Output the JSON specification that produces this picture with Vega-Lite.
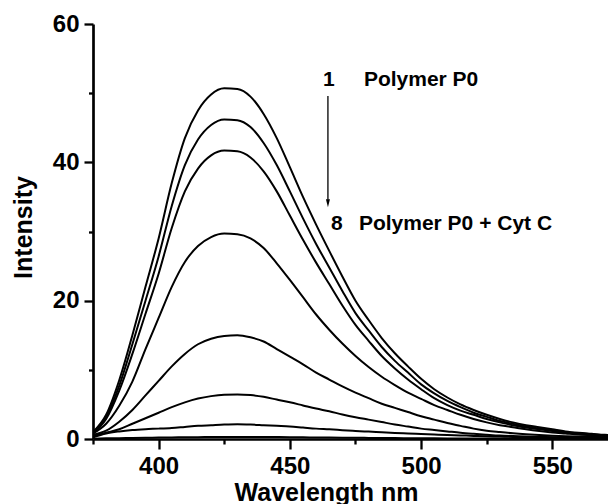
{
  "$schema": "https://vega.github.io/schema/vega-lite/v6.json",
  "width": 515,
  "height": 415,
  "autosize": {"type": "none"},
  "padding": {"left": 93, "top": 24, "right": 0, "bottom": 65},
  "background": "white",
  "config": {
    "view": {"stroke": null},
    "font": "Liberation Sans",
    "axis": {
      "grid": false,
      "domainColor": "black",
      "domainWidth": 2.7,
      "tickColor": "black",
      "tickWidth": 2.3,
      "labelColor": "black",
      "labelFont": "Liberation Sans",
      "labelFontWeight": "bold",
      "labelFontSize": 24,
      "titleColor": "black",
      "titleFont": "Liberation Sans",
      "titleFontWeight": "bold",
      "titleFontSize": 25,
      "labelFlush": false,
      "labelOverlap": false
    }
  },
  "datasets": {
    "spectra": [
      {"w": 375, "c1": 1.0, "c2": 0.95, "c3": 0.9, "c4": 0.8, "c5": 0.6, "c6": 0.4, "c7": 0.25, "c8": 0.05},
      {"w": 380, "c1": 3.5, "c2": 3.2, "c3": 2.9, "c4": 2.2, "c5": 1.2, "c6": 0.9, "c7": 0.8, "c8": 0.1},
      {"w": 385, "c1": 8.5, "c2": 7.7, "c3": 7.0, "c4": 4.8, "c5": 2.5, "c6": 1.4, "c7": 1.1, "c8": 0.12},
      {"w": 390, "c1": 15.0, "c2": 13.7, "c3": 12.3, "c4": 8.3, "c5": 4.2, "c6": 2.2, "c7": 1.3, "c8": 0.15},
      {"w": 395, "c1": 22.0, "c2": 20.0, "c3": 18.1, "c4": 13.0, "c5": 6.3, "c6": 3.0, "c7": 1.42, "c8": 0.17},
      {"w": 400, "c1": 29.0, "c2": 26.4, "c3": 23.9, "c4": 17.5, "c5": 8.4, "c6": 3.8, "c7": 1.5, "c8": 0.2},
      {"w": 405, "c1": 37.0, "c2": 33.7, "c3": 30.5, "c4": 22.0, "c5": 10.5, "c6": 4.6, "c7": 1.6, "c8": 0.22},
      {"w": 410, "c1": 43.5, "c2": 39.6, "c3": 35.8, "c4": 25.6, "c5": 12.3, "c6": 5.3, "c7": 1.75, "c8": 0.25},
      {"w": 415, "c1": 47.5, "c2": 43.3, "c3": 39.1, "c4": 27.9, "c5": 13.7, "c6": 5.85, "c7": 1.9, "c8": 0.27},
      {"w": 420, "c1": 49.8, "c2": 45.4, "c3": 41.0, "c4": 29.2, "c5": 14.5, "c6": 6.2, "c7": 2.0, "c8": 0.28},
      {"w": 425, "c1": 50.7, "c2": 46.2, "c3": 41.7, "c4": 29.7, "c5": 14.9, "c6": 6.4, "c7": 2.1, "c8": 0.3},
      {"w": 430, "c1": 50.6, "c2": 46.1, "c3": 41.6, "c4": 29.6, "c5": 15.0, "c6": 6.45, "c7": 2.15, "c8": 0.3},
      {"w": 435, "c1": 49.5, "c2": 45.1, "c3": 40.7, "c4": 29.0, "c5": 14.7, "c6": 6.35, "c7": 2.1, "c8": 0.3},
      {"w": 440, "c1": 47.0, "c2": 42.8, "c3": 38.7, "c4": 27.6, "c5": 14.1, "c6": 6.1, "c7": 2.0, "c8": 0.29},
      {"w": 445, "c1": 43.5, "c2": 39.6, "c3": 35.8, "c4": 25.4, "c5": 13.0, "c6": 5.7, "c7": 1.9, "c8": 0.28},
      {"w": 450, "c1": 39.3, "c2": 35.8, "c3": 32.3, "c4": 23.0, "c5": 11.9, "c6": 5.3, "c7": 1.8, "c8": 0.26},
      {"w": 455, "c1": 35.0, "c2": 31.9, "c3": 28.8, "c4": 20.5, "c5": 10.8, "c6": 4.85, "c7": 1.65, "c8": 0.24},
      {"w": 460, "c1": 31.0, "c2": 28.2, "c3": 25.5, "c4": 18.0, "c5": 9.6, "c6": 4.4, "c7": 1.5, "c8": 0.22},
      {"w": 465, "c1": 27.2, "c2": 24.8, "c3": 22.4, "c4": 15.8, "c5": 8.6, "c6": 4.0, "c7": 1.4, "c8": 0.2},
      {"w": 470, "c1": 23.5, "c2": 21.4, "c3": 19.3, "c4": 13.8, "c5": 7.6, "c6": 3.55, "c7": 1.28, "c8": 0.19},
      {"w": 475, "c1": 20.0, "c2": 18.2, "c3": 16.5, "c4": 12.0, "c5": 6.7, "c6": 3.15, "c7": 1.17, "c8": 0.17},
      {"w": 480, "c1": 17.2, "c2": 15.7, "c3": 14.2, "c4": 10.4, "c5": 5.9, "c6": 2.8, "c7": 1.07, "c8": 0.16},
      {"w": 485, "c1": 14.6, "c2": 13.3, "c3": 12.0, "c4": 9.0, "c5": 5.1, "c6": 2.45, "c7": 0.97, "c8": 0.15},
      {"w": 490, "c1": 12.4, "c2": 11.3, "c3": 10.2, "c4": 7.8, "c5": 4.5, "c6": 2.1, "c7": 0.88, "c8": 0.13},
      {"w": 495, "c1": 10.5, "c2": 9.6, "c3": 8.6, "c4": 6.7, "c5": 3.9, "c6": 1.8, "c7": 0.8, "c8": 0.12},
      {"w": 500, "c1": 8.7, "c2": 7.9, "c3": 7.2, "c4": 5.8, "c5": 3.3, "c6": 1.5, "c7": 0.72, "c8": 0.11},
      {"w": 505, "c1": 7.2, "c2": 6.6, "c3": 5.9, "c4": 4.9, "c5": 2.8, "c6": 1.3, "c7": 0.65, "c8": 0.1},
      {"w": 510, "c1": 6.0, "c2": 5.5, "c3": 4.9, "c4": 4.2, "c5": 2.3, "c6": 1.1, "c7": 0.58, "c8": 0.09},
      {"w": 515, "c1": 5.0, "c2": 4.6, "c3": 4.1, "c4": 3.5, "c5": 1.9, "c6": 0.9, "c7": 0.52, "c8": 0.08},
      {"w": 520, "c1": 4.2, "c2": 3.8, "c3": 3.5, "c4": 2.9, "c5": 1.5, "c6": 0.75, "c7": 0.45, "c8": 0.08},
      {"w": 525, "c1": 3.5, "c2": 3.2, "c3": 2.9, "c4": 2.4, "c5": 1.2, "c6": 0.62, "c7": 0.4, "c8": 0.07},
      {"w": 530, "c1": 2.9, "c2": 2.6, "c3": 2.4, "c4": 2.0, "c5": 1.0, "c6": 0.5, "c7": 0.35, "c8": 0.07},
      {"w": 535, "c1": 2.4, "c2": 2.2, "c3": 2.0, "c4": 1.7, "c5": 0.82, "c6": 0.42, "c7": 0.3, "c8": 0.06},
      {"w": 540, "c1": 2.0, "c2": 1.8, "c3": 1.65, "c4": 1.4, "c5": 0.68, "c6": 0.35, "c7": 0.26, "c8": 0.06},
      {"w": 545, "c1": 1.7, "c2": 1.5, "c3": 1.4, "c4": 1.15, "c5": 0.57, "c6": 0.3, "c7": 0.22, "c8": 0.05},
      {"w": 550, "c1": 1.4, "c2": 1.3, "c3": 1.15, "c4": 0.95, "c5": 0.48, "c6": 0.25, "c7": 0.19, "c8": 0.05},
      {"w": 555, "c1": 1.1, "c2": 1.0, "c3": 0.9, "c4": 0.8, "c5": 0.41, "c6": 0.2, "c7": 0.16, "c8": 0.05},
      {"w": 560, "c1": 0.9, "c2": 0.82, "c3": 0.74, "c4": 0.65, "c5": 0.35, "c6": 0.17, "c7": 0.14, "c8": 0.04},
      {"w": 565, "c1": 0.75, "c2": 0.68, "c3": 0.62, "c4": 0.55, "c5": 0.3, "c6": 0.15, "c7": 0.12, "c8": 0.04},
      {"w": 570, "c1": 0.6, "c2": 0.55, "c3": 0.5, "c4": 0.45, "c5": 0.26, "c6": 0.12, "c7": 0.1, "c8": 0.04},
      {"w": 575, "c1": 0.5, "c2": 0.46, "c3": 0.41, "c4": 0.38, "c5": 0.23, "c6": 0.1, "c7": 0.09, "c8": 0.04}
    ],
    "notes": [
      {"w": 462.6, "v": 51.0, "t": "1"},
      {"w": 478.2, "v": 51.0, "t": "Polymer P0"},
      {"w": 465.7, "v": 30.2, "t": "8"},
      {"w": 476.3, "v": 30.2, "t": "Polymer P0 + Cyt C"}
    ],
    "arrow": [
      {"w": 464.5, "v": 49.6, "v2": 34.6}
    ],
    "head": [
      {"w": 464.5, "v": 34.1}
    ]
  },
  "layer": [
    {
      "data": {"name": "spectra"},
      "transform": [
        {"fold": ["c1", "c2", "c3", "c4", "c5", "c6", "c7", "c8"], "as": ["curve", "intensity"]}
      ],
      "mark": {"type": "line", "color": "black", "strokeWidth": 2, "clip": true, "interpolate": "monotone"},
      "encoding": {
        "x": {
          "field": "w",
          "type": "quantitative",
          "scale": {"domain": [375, 571.2], "nice": false, "zero": false},
          "axis": {
            "title": "Wavelength nm",
            "values": [375, 400, 425, 450, 475, 500, 525, 550],
            "labelExpr": "datum.value % 50 == 0 ? datum.label : ''",
            "tickSize": {"condition": {"test": "datum.value % 50 == 0", "value": 10}, "value": 5},
            "labelPadding": 5,
            "titleX": 233,
            "titleY": 61,
            "titleAlign": "center",
            "titleBaseline": "alphabetic",
            "titleAngle": 0
          }
        },
        "y": {
          "field": "intensity",
          "type": "quantitative",
          "scale": {"domain": [0, 60], "nice": false},
          "axis": {
            "title": "Intensity",
            "values": [0, 10, 20, 30, 40, 50, 60],
            "labelExpr": "datum.value % 20 == 0 ? datum.label : ''",
            "tickSize": {"condition": {"test": "datum.value % 20 == 0", "value": 9}, "value": 4.5},
            "labelPadding": 5,
            "titleX": -61.5,
            "titleY": 203,
            "titleAngle": 270,
            "titleAlign": "center",
            "titleBaseline": "alphabetic"
          }
        },
        "detail": {"field": "curve", "type": "nominal"}
      }
    },
    {
      "data": {"name": "notes"},
      "mark": {"type": "text", "align": "left", "baseline": "alphabetic", "font": "Liberation Sans", "fontWeight": "bold", "fontSize": 21, "color": "black"},
      "encoding": {
        "x": {"field": "w", "type": "quantitative"},
        "y": {"field": "v", "type": "quantitative"},
        "text": {"field": "t", "type": "nominal"}
      }
    },
    {
      "data": {"name": "arrow"},
      "mark": {"type": "rule", "color": "black", "strokeWidth": 1.3},
      "encoding": {
        "x": {"field": "w", "type": "quantitative"},
        "y": {"field": "v", "type": "quantitative"},
        "y2": {"field": "v2"}
      }
    },
    {
      "data": {"name": "head"},
      "mark": {"type": "point", "shape": "M -0.5 -1 L 0.5 -1 L 0 1 Z", "filled": true, "color": "black", "size": 64, "opacity": 1},
      "encoding": {
        "x": {"field": "w", "type": "quantitative"},
        "y": {"field": "v", "type": "quantitative"}
      }
    }
  ]
}
